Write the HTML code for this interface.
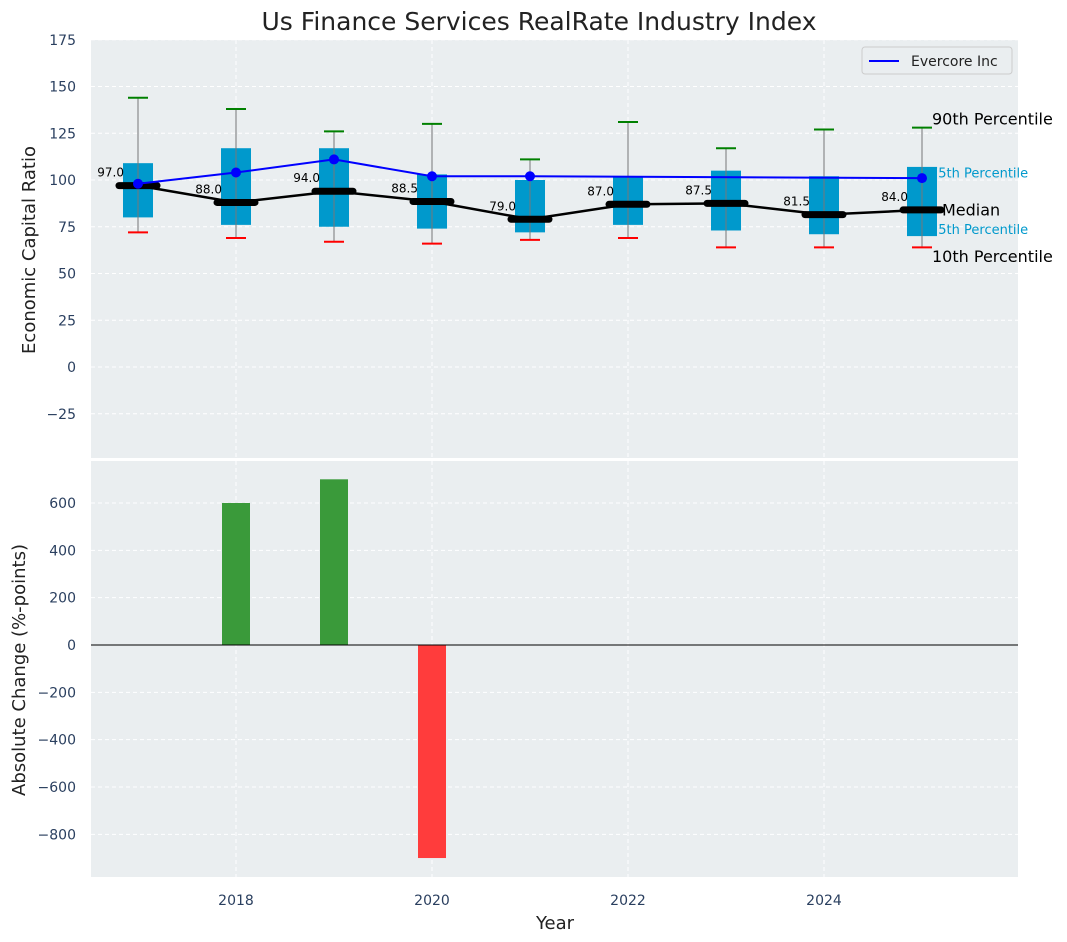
<!DOCTYPE html>
<html><head><meta charset="utf-8"><style>
body{margin:0;background:#fff;}
svg{display:block;font-family:"DejaVu Sans","Liberation Sans",sans-serif;}
</style></head><body>
<svg id="chart" width="1067" height="942" xmlns="http://www.w3.org/2000/svg">
<text x="539" y="30" text-anchor="middle" font-size="25" fill="#222">Us Finance Services RealRate Industry Index</text>
<rect x="91" y="40" width="927" height="418" fill="#eaeef0"/>
<rect x="91" y="461" width="927" height="416" fill="#eaeef0"/>
<g id="gtop"></g><g id="gbot"></g>
<text x="35" y="250" transform="rotate(-90 35 250)" text-anchor="middle" font-size="18" fill="#222">Economic Capital Ratio</text>
<text x="25" y="670" transform="rotate(-90 25 670)" text-anchor="middle" font-size="18" fill="#222">Absolute Change (%-points)</text>
<text x="555" y="929" text-anchor="middle" font-size="18" fill="#222">Year</text>
<g>
<rect x="862" y="47" width="150" height="27" rx="3" fill="#eaeef0" stroke="#ccc"/>
<line x1="869" y1="61" x2="899" y2="61" stroke="#0000ff" stroke-width="2"/>
<text x="911" y="66" font-size="14" fill="#222">Evercore Inc</text>
</g>
</svg>
<script>
const years=[2017,2018,2019,2020,2021,2022,2023,2024,2025];
const p10=[72,69,67,66,68,69,64,64,64];
const p25=[80,76,75,74,72,76,73,71,70];
const medians=[97,88,94,88.5,79,87,87.5,81.5,84];
const p75=[109,117,117,103,100,102,105,102,107];
const p90=[144,138,126,130,111,131,117,127,128];
const evYears=[2017,2018,2019,2020,2021,2025];
const evValues=[98,104,111,102,102,101];
const chgYears=[2018,2019,2020];
const chgValues=[600,700,-900];
const topTicks=[-25,0,25,50,75,100,125,150,175];
const botTicks=[-800,-600,-400,-200,0,200,400,600];
const xTicks=[2018,2020,2022,2024];
const NS="http://www.w3.org/2000/svg";
const X=y=>138+(y-2017)*98;
const YT=v=>367-v*1.87;
const YB=v=>645-v*0.2367;
function mk(p,t,a){const e=document.createElementNS(NS,t);for(const k in a)e.setAttribute(k,a[k]);p.appendChild(e);return e;}
const svg=document.getElementById('chart');
const gTop=document.getElementById('gtop'),gBot=document.getElementById('gbot');
xTicks.forEach(t=>{
 mk(gTop,'line',{x1:X(t),x2:X(t),y1:40,y2:458,stroke:'#fff','stroke-dasharray':'4,3'});
 mk(gBot,'line',{x1:X(t),x2:X(t),y1:461,y2:877,stroke:'#fff','stroke-dasharray':'4,3'});
 const tx=mk(svg,'text',{x:X(t),y:905,'text-anchor':'middle','font-size':14,fill:'#2a3f5f'});tx.textContent=t;
 
 
});
topTicks.forEach(t=>{
 mk(gTop,'line',{x1:91,x2:1018,y1:YT(t),y2:YT(t),stroke:'#fff','stroke-dasharray':'4,3'});
 const tx=mk(svg,'text',{x:76,y:YT(t)+5,'text-anchor':'end','font-size':14,fill:'#2a3f5f'});tx.textContent=t<0?'\u2212'+(-t):t;
 
 
});
botTicks.forEach(t=>{
 mk(gBot,'line',{x1:91,x2:1018,y1:YB(t),y2:YB(t),stroke:'#fff','stroke-dasharray':'4,3'});
 const tx=mk(svg,'text',{x:76,y:YB(t)+5,'text-anchor':'end','font-size':14,fill:'#2a3f5f'});tx.textContent=t<0?'\u2212'+(-t):t;
 
 
});
const L=years.length-1,lx=X(years[L])+10;
[['90th Percentile',p90[L],'#000',16,-9,0],['75th Percentile',p75[L],'#0099cc',13,6,-2],['Median',medians[L],'#000',16,0,10],['25th Percentile',p25[L],'#0099cc',13,-7,-2],['10th Percentile',p10[L],'#000',16,9,0]].forEach(([s,v,c,f,dy,dx])=>{
 const t=mk(gTop,'text',{x:lx+dx,y:YT(v)+dy+f*0.36,'font-size':f,fill:c});t.textContent=s;
 
 
});
years.forEach((y,i)=>{
 const g=mk(gTop,'g',{});
 
 
 mk(g,'rect',{x:X(y)-15,y:YT(p75[i]),width:30,height:YT(p25[i])-YT(p75[i]),fill:'#0099cc'});
 mk(g,'line',{x1:X(y),x2:X(y),y1:YT(p90[i]),y2:YT(p10[i]),stroke:'#777','stroke-width':1});
 mk(g,'line',{x1:X(y)-10,x2:X(y)+10,y1:YT(p90[i]),y2:YT(p90[i]),stroke:'green','stroke-width':2});
 mk(g,'line',{x1:X(y)-10,x2:X(y)+10,y1:YT(p10[i]),y2:YT(p10[i]),stroke:'red','stroke-width':2});
 const t=mk(g,'text',{x:X(y)-14,y:YT(medians[i])-9,'text-anchor':'end','font-size':12,fill:'#000'});t.textContent=medians[i].toFixed(1);
});
const ml=mk(gTop,'polyline',{points:years.map((y,i)=>X(y)+','+YT(medians[i])).join(' '),fill:'none',stroke:'#000','stroke-width':2.5});


years.forEach((y,i)=>{
 const m=mk(gTop,'line',{x1:X(y)-19,x2:X(y)+19,y1:YT(medians[i]),y2:YT(medians[i]),stroke:'#000','stroke-width':7,'stroke-linecap':'round'});
 
 
});
const ev=mk(gTop,'polyline',{points:evYears.map((y,i)=>X(y)+','+YT(evValues[i])).join(' '),fill:'none',stroke:'#0000ff','stroke-width':2});


evYears.forEach((y,i)=>{
 const c=mk(gTop,'circle',{cx:X(y),cy:YT(evValues[i]),r:5,fill:'#0000ff'});
 
 
});
chgYears.forEach((y,i)=>{
 const v=chgValues[i];
 const r=mk(gBot,'rect',{x:X(y)-14,width:28,y:Math.min(YB(v),YB(0)),height:Math.abs(YB(v)-YB(0)),fill:v>=0?'#3a9a3a':'#ff3c3c'});
 
 
});
mk(gBot,'line',{x1:91,x2:1018,y1:YB(0),y2:YB(0),stroke:'#000','stroke-width':1});
</script>
</body></html>
